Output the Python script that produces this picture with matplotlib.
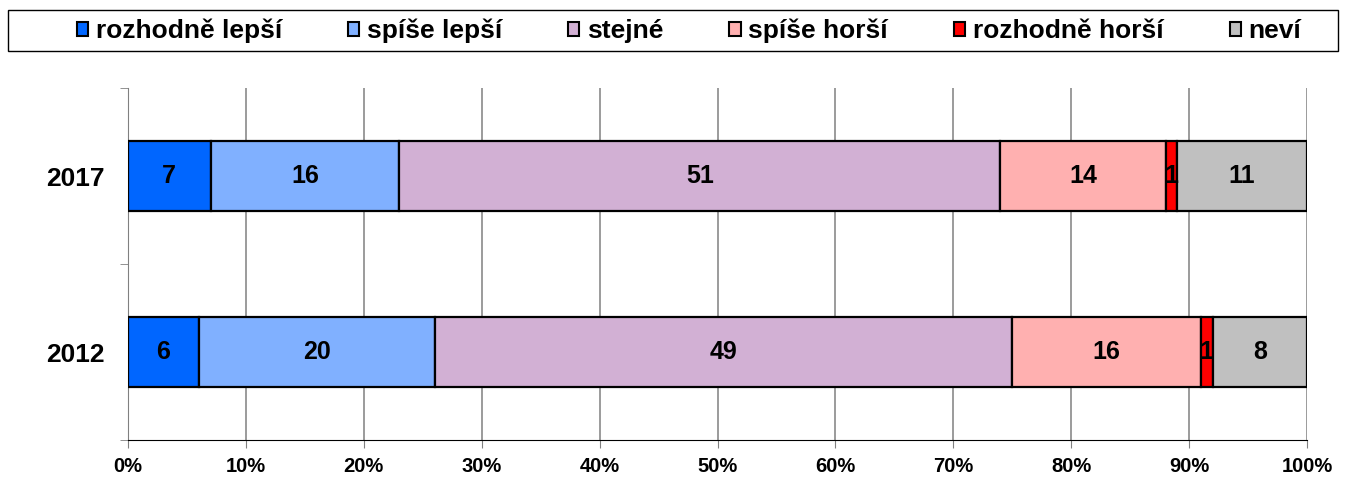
import numpy as np
import matplotlib.pyplot as plt
from matplotlib.patches import Patch, Rectangle

# data
years = ["2012", "2017"]
categories = ["rozhodně lepší", "spíše lepší", "stejné", "spíše horší", "rozhodně horší", "neví"]
values_2012 = [6, 20, 49, 16, 1, 8]
values_2017 = [7, 16, 51, 14, 1, 11]
colors = ["#0066FF", "#80B0FF", "#D2B0D4", "#FFB0B0", "#FF0000", "#C0C0C0"]
xticks = [0, 10, 20, 30, 40, 50, 60, 70, 80, 90, 100]
xtick_labels = ["0%", "10%", "20%", "30%", "40%", "50%", "60%", "70%", "80%", "90%", "100%"]

plt.rcParams['font.family'] = ['Liberation Sans', 'DejaVu Sans']
plt.rcParams['font.weight'] = 'bold'

fig = plt.figure(figsize=(13.46, 4.79), dpi=100)
ax = fig.add_axes([128 / 1346, 1 - 440 / 479, (1307 - 128) / 1346, (440 - 88) / 479])

data = np.array([values_2012, values_2017])
y = np.arange(len(years))
left = np.zeros(len(years))
for i, cat in enumerate(categories):
    vals = data[:, i]
    bars = ax.barh(y, vals, left=left, height=0.40, color=colors[i],
                   edgecolor="black", linewidth=1.6, zorder=3)
    for b, v in zip(bars, vals):
        ax.text(b.get_x() + b.get_width() / 2, b.get_y() + b.get_height() / 2, str(v),
                ha="center", va="center", fontsize=18, fontweight="bold", zorder=4)
    left += vals

ax.set_xlim(0, 100)
ax.set_ylim(-0.5, 1.5)
ax.set_xticks(xticks)
ax.set_xticklabels(xtick_labels, fontsize=14.5, fontweight="bold")
ax.set_yticks(y)
ax.set_yticklabels(years, fontsize=19, fontweight="bold")
ax.set_yticks([-0.5, 0.5, 1.5], minor=True)
ax.tick_params(axis="y", which="major", length=0, pad=17)
ax.tick_params(axis="y", which="minor", length=6, direction="out", color="#808080")
ax.tick_params(axis="x", length=6, direction="out", color="#808080", pad=6)
ax.xaxis.grid(True, color="#808080", linewidth=1.1, zorder=0)
for s in ["top", "right"]:
    ax.spines[s].set_visible(False)
ax.spines["left"].set_color("#808080")
ax.spines["bottom"].set_color("black")

# legend box across the top
fig.patches.append(Rectangle((8 / 1346, 1 - 51 / 479), 1330 / 1346, 41 / 479,
                             transform=fig.transFigure, facecolor="white",
                             edgecolor="black", linewidth=1.0))
handles = [Patch(facecolor=c, edgecolor="black", linewidth=1.5) for c in colors]
fig.legend(handles, categories, loc="center", bbox_to_anchor=(689 / 1346, 1 - 31 / 479),
           ncol=6, frameon=False, handlelength=0.42, handleheight=0.42,
           handletextpad=0.3, columnspacing=2.5,
           prop={"weight": "bold", "size": 19})

fig.savefig("out.png", dpi=100)
